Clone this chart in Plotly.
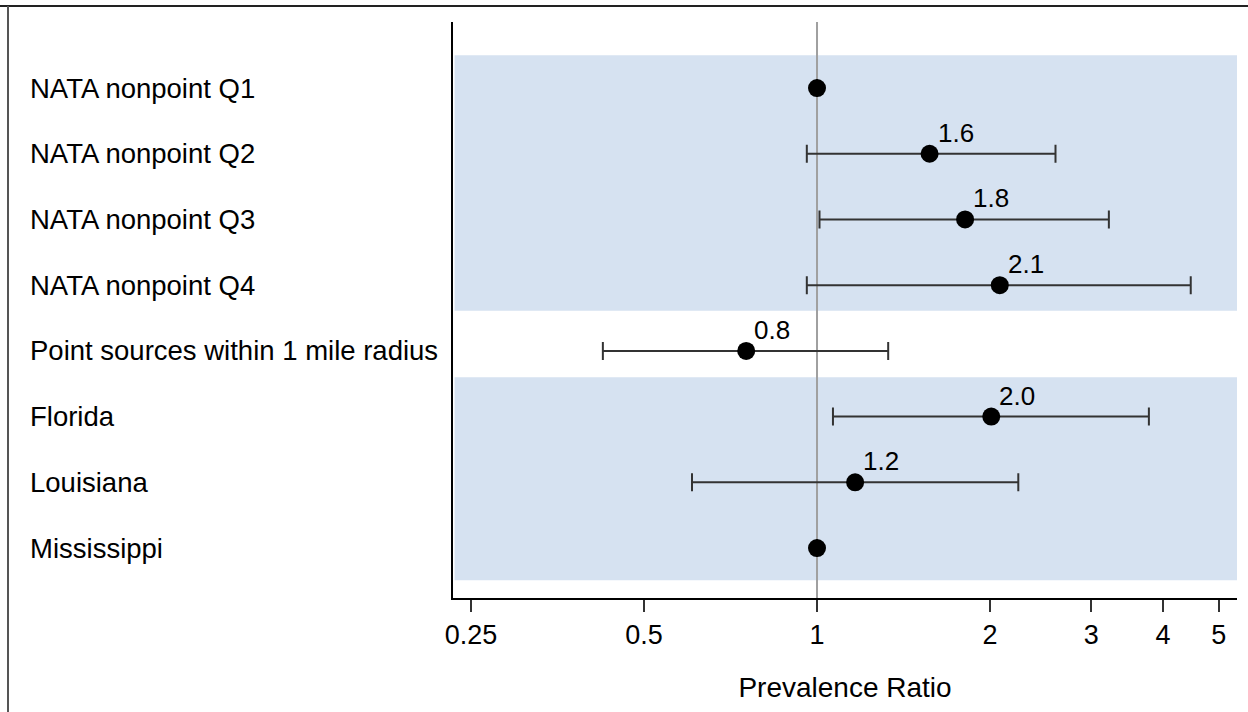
import math
import plotly.graph_objects as go

categories = ["NATA nonpoint Q1", "NATA nonpoint Q2", "NATA nonpoint Q3", "NATA nonpoint Q4",
              "Point sources within 1 mile radius", "Florida", "Louisiana", "Mississippi"]
pr = [1.0, 1.57, 1.81, 2.08, 0.753, 2.01, 1.165, 1.0]
lower = [None, 0.96, 1.01, 0.96, 0.424, 1.066, 0.606, None]
upper = [None, 2.60, 3.22, 4.47, 1.33, 3.78, 2.24, None]
labels = ["", "1.6", "1.8", "2.1", "0.8", "2.0", "1.2", ""]
tick_vals = [0.25, 0.5, 1, 2, 3, 4, 5]
tick_text = ["0.25", "0.5", "1", "2", "3", "4", "5"]

FONT = "Arial, Liberation Sans, sans-serif"

err_plus = [(u - p) if u is not None else 0 for u, p in zip(upper, pr)]
err_minus = [(p - l) if l is not None else 0 for l, p in zip(lower, pr)]

fig = go.Figure()
fig.add_trace(go.Scatter(
    x=pr, y=categories, mode="markers",
    marker=dict(color="black", size=18),
    error_x=dict(type="data", symmetric=False, array=err_plus, arrayminus=err_minus,
                 color="#333333", thickness=2, width=9),
    showlegend=False, cliponaxis=False,
))

shapes = [
    dict(type="rect", xref="paper", yref="y", x0=0.002, x1=1, y0=-0.5, y1=3.39,
         fillcolor="#d6e2f1", line=dict(width=0), layer="below"),
    dict(type="rect", xref="paper", yref="y", x0=0.002, x1=1, y0=4.4, y1=7.49,
         fillcolor="#d6e2f1", line=dict(width=0), layer="below"),
    dict(type="line", xref="x", yref="paper", x0=1, x1=1, y0=0, y1=1,
         line=dict(color="#a0a0a0", width=2), layer="below"),
    # outer frame (left and top)
    dict(type="line", xref="paper", yref="paper", x0=-0.58, x1=1.02, y0=1.0278, y1=1.0278,
         line=dict(color="#222222", width=2)),
    dict(type="line", xref="paper", yref="paper", x0=-0.5676, x1=-0.5676, y0=1.0278, y1=-0.25,
         line=dict(color="#555555", width=2)),
]

annotations = [
    dict(x=-0.542, y=c, xref="paper", yref="y", text=c, showarrow=False,
         xanchor="left", yanchor="middle", font=dict(family=FONT, size=27.5, color="black"))
    for c in categories
]
for c, p, t in zip(categories, pr, labels):
    if t:
        annotations.append(dict(x=math.log10(p), y=c, xref="x", yref="y", text=t, showarrow=False,
                                xanchor="left", yanchor="bottom", xshift=6, yshift=4,
                                font=dict(family=FONT, size=26, color="black")))

fig.update_layout(
    width=1248, height=712,
    margin=dict(l=453, r=11, t=22, b=114),
    paper_bgcolor="white", plot_bgcolor="white",
    shapes=shapes, annotations=annotations,
    font=dict(family=FONT, color="black"),
    xaxis=dict(type="log", range=[-0.6334, 0.7308], tickvals=tick_vals, ticktext=tick_text,
               showgrid=False, zeroline=False, showline=True, linecolor="black", linewidth=2,
               ticks="outside", ticklen=12, tickwidth=2, tickcolor="#333333",
               tickfont=dict(family=FONT, size=27, color="black"),
               title=dict(text="Prevalence Ratio", font=dict(family=FONT, size=28, color="black"),
                          standoff=28)),
    yaxis=dict(type="category", categoryorder="array", categoryarray=categories,
               range=[7.76, -1.005], showticklabels=False, showgrid=False, zeroline=False,
               showline=True, linecolor="black", linewidth=2, ticks=""),
)

fig.write_html("out.html")
